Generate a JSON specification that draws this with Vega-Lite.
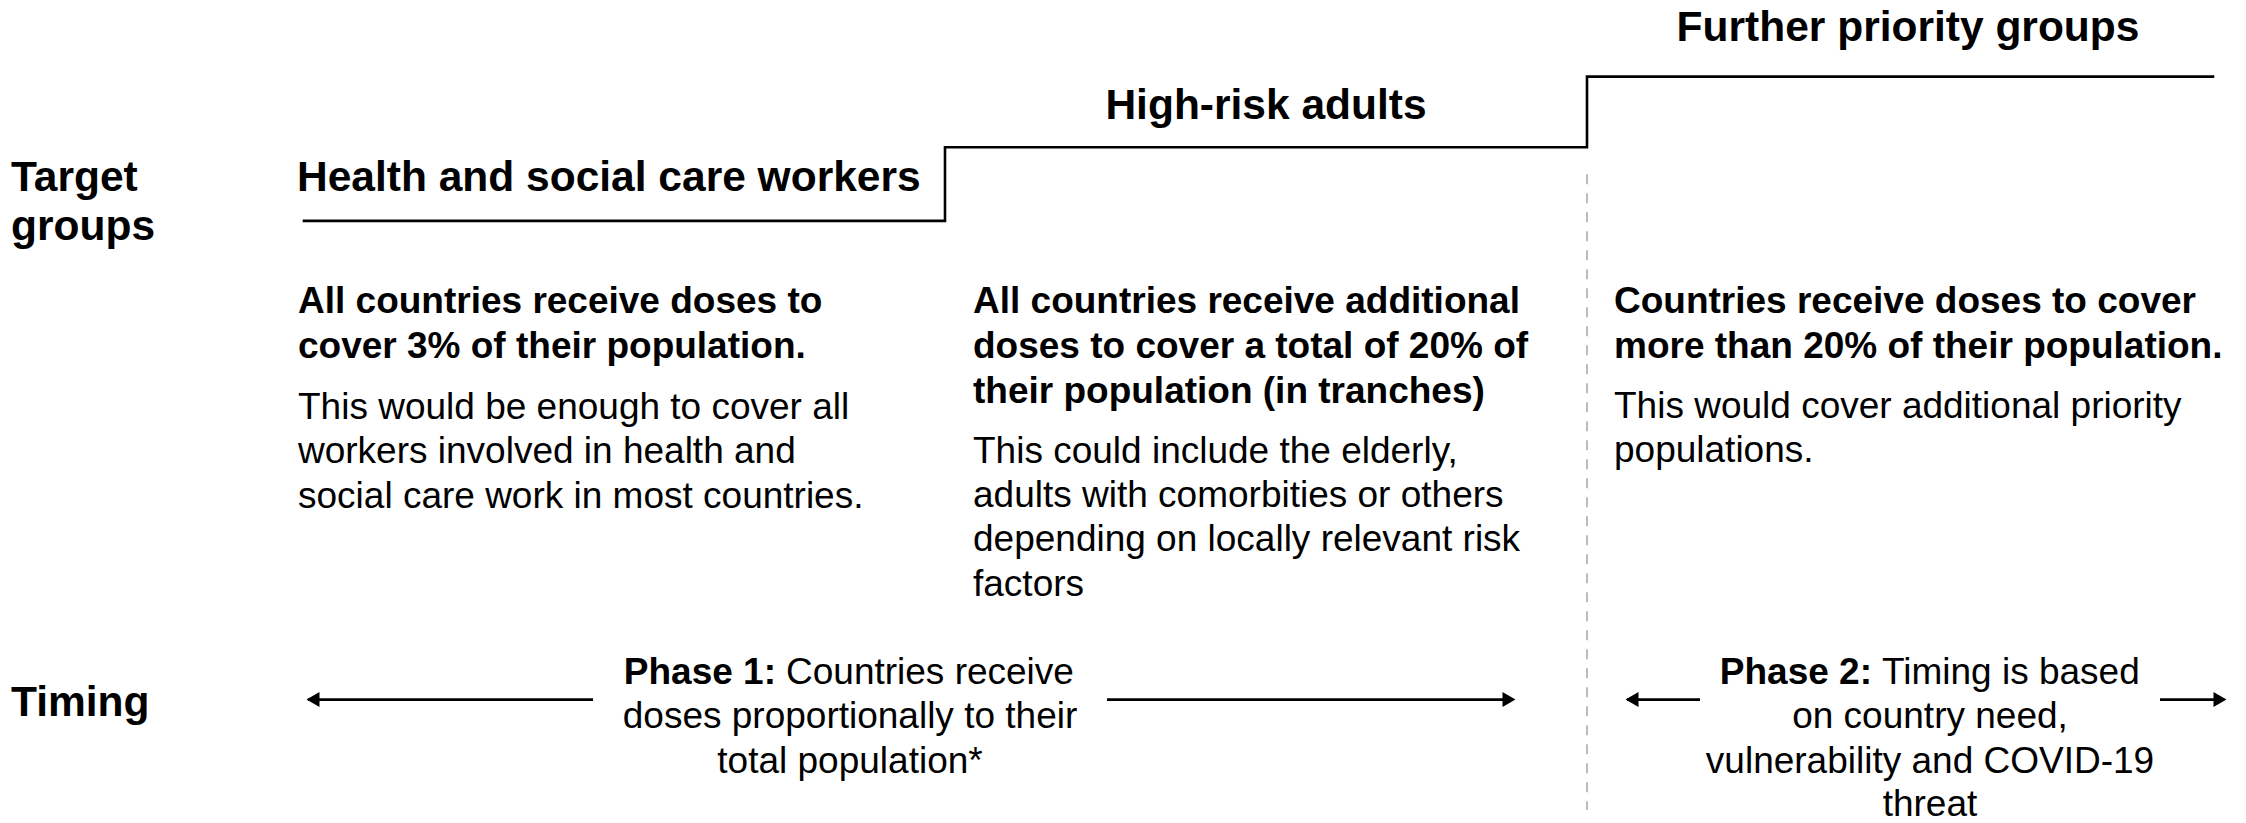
{
  "$schema": "https://vega.github.io/schema/vega-lite/v6.json",
  "autosize": {"type": "fit", "contains": "padding"},
  "width": 2246,
  "height": 823,
  "padding": 0,
  "background": "white",
  "config": {"view": {"stroke": null}},
  "datasets": {
    "steps": [
      {"x": 304, "y": 222, "o": 1},
      {"x": 945, "y": 222, "o": 2},
      {"x": 945, "y": 148, "o": 3},
      {"x": 1587, "y": 148, "o": 4},
      {"x": 1587, "y": 77, "o": 5},
      {"x": 2213, "y": 77, "o": 6}
    ],
    "divider": [{"x": 1587, "y": 175, "y2": 814}],
    "arrowLines": [
      {"x": 308, "x2": 593, "y": 703},
      {"x": 1107, "x2": 1512, "y": 703},
      {"x": 1627, "x2": 1700, "y": 703},
      {"x": 2160, "x2": 2224, "y": 703}
    ],
    "headsLeft": [{"x": 313, "y": 703}, {"x": 1632, "y": 703}],
    "headsRight": [{"x": 1509, "y": 703}, {"x": 2220, "y": 703}],
    "sectionLabels": [
      {"text": "Target", "x": 11, "y": 192},
      {"text": "groups", "x": 11, "y": 241},
      {"text": "Timing", "x": 11, "y": 719},
      {"text": "Health and social care workers", "x": 297, "y": 192}
    ],
    "groupTitles": [
      {"text": "High-risk adults", "x": 1266, "y": 120},
      {"text": "Further priority groups", "x": 1908, "y": 41}
    ],
    "boldBody": [
      {"text": "All countries receive doses to", "x": 298, "y": 315},
      {"text": "cover 3% of their population.", "x": 298, "y": 360},
      {"text": "All countries receive additional", "x": 973, "y": 315},
      {"text": "doses to cover a total of 20% of", "x": 973, "y": 360},
      {"text": "their population (in tranches)", "x": 973, "y": 405},
      {"text": "Countries receive doses to cover", "x": 1614, "y": 315},
      {"text": "more than 20% of their population.", "x": 1614, "y": 360}
    ],
    "regularBody": [
      {"text": "This would be enough to cover all", "x": 298, "y": 421},
      {"text": "workers involved in health and", "x": 298, "y": 465.5},
      {"text": "social care work in most countries.", "x": 298, "y": 510},
      {"text": "This could include the elderly,", "x": 973, "y": 465},
      {"text": "adults with comorbities or others", "x": 973, "y": 509.5},
      {"text": "depending on locally relevant risk", "x": 973, "y": 554},
      {"text": "factors", "x": 973, "y": 598.5},
      {"text": "This would cover additional priority", "x": 1614, "y": 420},
      {"text": "populations.", "x": 1614, "y": 464.5},
      {"text": "Countries receive", "x": 786, "y": 687},
      {"text": "Timing is based", "x": 1882, "y": 687}
    ],
    "phaseLabels": [
      {"text": "Phase 1:", "x": 776, "y": 687},
      {"text": "Phase 2:", "x": 1872, "y": 687}
    ],
    "phaseLines": [
      {"text": "doses proportionally to their", "x": 850, "y": 732},
      {"text": "total population*", "x": 850, "y": 777},
      {"text": "on country need,", "x": 1930, "y": 732},
      {"text": "vulnerability and COVID-19", "x": 1930, "y": 777},
      {"text": "threat", "x": 1930, "y": 820}
    ]
  },
  "encoding": {
    "x": {"field": "x", "type": "quantitative", "axis": null, "scale": {"domain": [0, 2246], "nice": false, "zero": false}},
    "y": {"field": "y", "type": "quantitative", "axis": null, "scale": {"domain": [0, 823], "nice": false, "zero": false, "reverse": true}}
  },
  "layer": [
    {
      "data": {"name": "steps"},
      "mark": {"type": "line", "color": "black", "strokeWidth": 2.6, "strokeCap": "square", "strokeJoin": "miter"},
      "encoding": {"order": {"field": "o", "type": "quantitative"}}
    },
    {
      "data": {"name": "divider"},
      "mark": {"type": "rule", "color": "#b5b5b5", "strokeWidth": 1.8, "strokeDash": [10, 9]},
      "encoding": {"y2": {"field": "y2"}}
    },
    {
      "data": {"name": "arrowLines"},
      "mark": {"type": "rule", "color": "black", "strokeWidth": 2.6},
      "encoding": {"x2": {"field": "x2"}}
    },
    {
      "data": {"name": "headsLeft"},
      "mark": {"type": "point", "shape": "triangle-left", "filled": true, "color": "black", "size": 225, "opacity": 1}
    },
    {
      "data": {"name": "headsRight"},
      "mark": {"type": "point", "shape": "triangle-right", "filled": true, "color": "black", "size": 225, "opacity": 1}
    },
    {
      "data": {"name": "sectionLabels"},
      "mark": {"type": "text", "font": "Liberation Sans", "fontWeight": "bold", "fontSize": 42.5, "align": "left", "baseline": "alphabetic", "color": "black"},
      "encoding": {"text": {"field": "text"}}
    },
    {
      "data": {"name": "groupTitles"},
      "mark": {"type": "text", "font": "Liberation Sans", "fontWeight": "bold", "fontSize": 42.5, "align": "center", "baseline": "alphabetic", "color": "black"},
      "encoding": {"text": {"field": "text"}}
    },
    {
      "data": {"name": "boldBody"},
      "mark": {"type": "text", "font": "Liberation Sans", "fontWeight": "bold", "fontSize": 37, "align": "left", "baseline": "alphabetic", "color": "black"},
      "encoding": {"text": {"field": "text"}}
    },
    {
      "data": {"name": "regularBody"},
      "mark": {"type": "text", "font": "Liberation Sans", "fontWeight": "normal", "fontSize": 37, "align": "left", "baseline": "alphabetic", "color": "black"},
      "encoding": {"text": {"field": "text"}}
    },
    {
      "data": {"name": "phaseLabels"},
      "mark": {"type": "text", "font": "Liberation Sans", "fontWeight": "bold", "fontSize": 37, "align": "right", "baseline": "alphabetic", "color": "black"},
      "encoding": {"text": {"field": "text"}}
    },
    {
      "data": {"name": "phaseLines"},
      "mark": {"type": "text", "font": "Liberation Sans", "fontWeight": "normal", "fontSize": 37, "align": "center", "baseline": "alphabetic", "color": "black"},
      "encoding": {"text": {"field": "text"}}
    }
  ]
}
